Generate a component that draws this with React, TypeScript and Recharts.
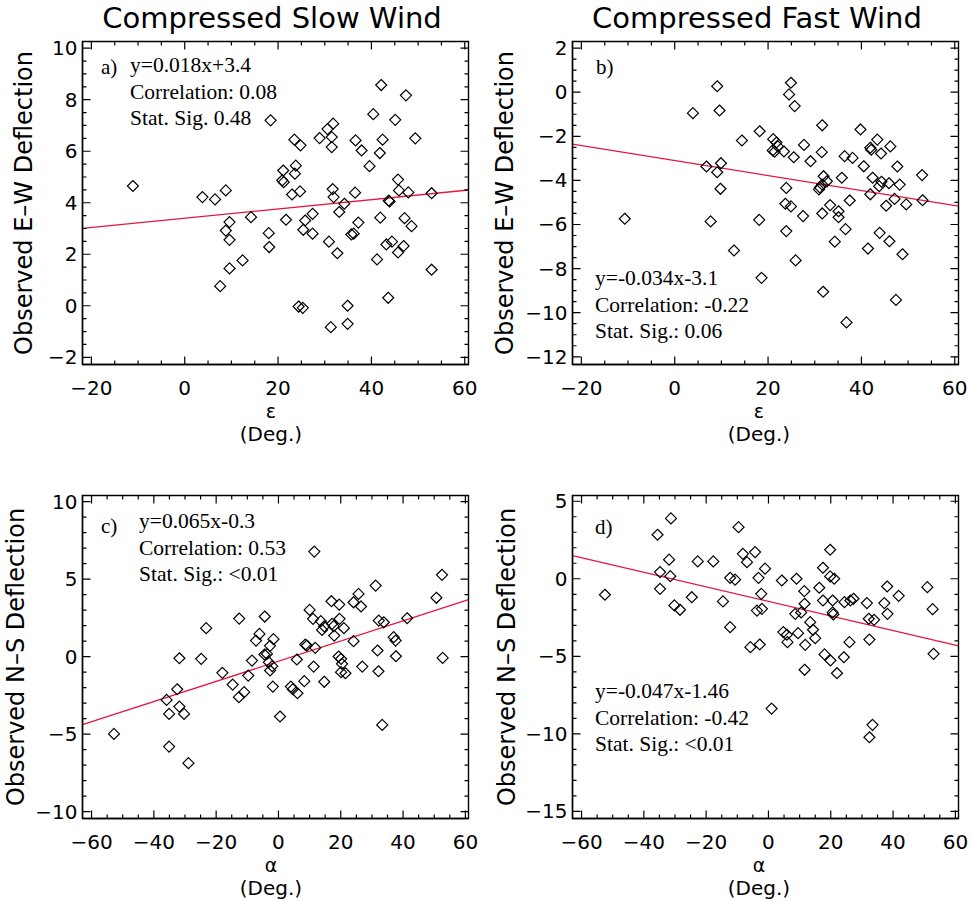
import React from 'react';
import { ScatterChart, Scatter, XAxis, YAxis, ReferenceLine } from 'recharts';

// a) compressed slow wind: epsilon (deg) vs observed E-W deflection
const slowEps = [18.4, -11.1, 3.8, 6.5, 8.8, 9.6, 8.8, 9.6, 14.2, 18.0, 18.1, 12.4, 9.6, 7.6,
  42.1, 47.4, 40.4, 45.1, 30.6, 31.8, 31.5, 28.9, 23.5, 24.8, 31.5, 36.6, 37.9, 42.4, 41.8, 49.4, 39.6,
  21.1, 23.8, 23.6, 20.9, 21.2, 23.0, 24.7, 31.7, 31.9, 36.5, 45.7, 45.9, 47.9, 52.9, 34.2, 33.1, 43.9, 43.7,
  21.7, 25.8, 27.4, 25.4, 27.4, 37.2, 41.9, 47.1, 48.6, 35.7, 36.2, 30.9, 32.7, 43.2, 44.4, 45.7, 46.9, 41.2, 52.9,
  24.4, 25.3, 34.9, 34.9, 31.3, 43.6];
const slowEW = [7.2, 4.65, 4.22, 4.13, 4.48, 3.25, 2.92, 2.56, 3.44, 2.82, 2.28, 1.76, 1.45, 0.76,
  8.57, 8.17, 7.44, 7.22, 6.86, 7.07, 6.55, 6.51, 6.45, 6.23, 6.16, 6.42, 6.03, 6.45, 5.93, 6.5, 5.42,
  5.25, 5.44, 5.13, 4.87, 4.8, 4.32, 4.44, 4.53, 4.22, 4.39, 4.9, 4.48, 4.4, 4.37, 3.96, 3.64, 4.05, 4.08,
  3.34, 3.31, 3.57, 2.95, 2.8, 3.23, 3.42, 3.4, 3.09, 2.77, 2.8, 2.49, 2.04, 2.38, 2.49, 2.07, 2.32, 1.8, 1.4,
  -0.03, -0.08, 0.0, -0.7, -0.83, 0.31];

// b) compressed fast wind: epsilon vs E-W deflection
const fastEps = [9.1, 9.6, 3.9, 18.2, 14.4, 6.8, 9.9, 9.1, 9.8, -10.7, 7.7, 18.1, 12.7, 18.6,
  24.9, 24.5, 25.7, 31.6, 39.8, 21.1, 21.8, 22.1, 21.4, 21.0, 23.4, 27.7, 25.5, 29.1, 31.5, 36.4, 38.1, 40.5, 42.1, 41.9, 43.4, 44.2, 46.2, 47.7, 53.0,
  23.9, 31.9, 32.6, 31.1, 30.9, 31.6, 35.8, 42.4, 44.3, 43.8, 45.9, 48.2, 41.9, 47.1, 37.5, 45.3, 49.6, 53.1,
  23.7, 24.9, 27.5, 33.3, 31.6, 35.1, 35.1, 23.9, 36.6, 34.3, 43.9, 46.0, 41.4, 48.8, 25.9, 31.8, 47.4, 36.8];
const fastEW = [0.27, -0.83, -0.95, -1.77, -2.19, -3.37, -3.22, -3.63, -4.38, -5.74, -5.86, -5.79, -7.18, -8.42,
  0.43, -0.1, -0.63, -1.5, -1.69, -2.13, -2.28, -2.46, -2.7, -2.64, -2.69, -2.39, -2.95, -3.13, -2.72, -2.9, -2.98, -3.36, -2.61, -2.52, -2.15, -2.78, -2.46, -3.37, -3.76,
  -4.34, -3.81, -4.04, -4.32, -4.41, -4.19, -3.88, -3.88, -4.06, -4.26, -4.13, -4.19, -4.63, -4.84, -4.91, -5.15, -5.09, -4.9,
  -5.06, -5.18, -5.62, -5.12, -5.5, -5.4, -5.67, -6.3, -6.21, -6.78, -6.38, -6.76, -7.09, -7.35, -7.63, -9.05, -9.42, -10.44];

// c) compressed slow wind: alpha vs N-S deflection
const slowAlpha = [-12.6, -4.4, -23.2, -6.1, -7.2, -1.6, -2.7, -4.5, -3.7, -8.5, -3.1, -2.0, -2.7, -1.8, -31.8, -24.8, -18.0, -14.7, -9.7, -12.7,
  -11.0, -35.9, -32.5, -31.8, -35.1, -30.3, -52.8, -35.1, -28.9, 0.5,
  11.5, 52.5, 50.7, 31.2, 25.7, 24.1, 26.5, 17.0, 19.5, 10.0, 11.1, 13.6, 19.6, 17.2, 17.7, 14.7, 14.0, 21.0, 17.9, 32.2, 33.8, 41.3, 24.1, 37.0, 37.6,
  8.6, 9.1, 11.8, 5.9, 11.3, 19.3, 20.1, 20.4, 20.1, 21.5, 26.9, 31.8, 32.1, 37.7, 52.7, 4.0, 4.6, 6.1, 8.3, 14.7, 33.3];
const slowNS = [2.45, 2.58, 1.83, 1.46, 1.03, 1.12, 0.69, 0.13, 0.17, -0.26, -0.37, -0.62, -0.9, -1.94, -0.11, -0.15, -1.05, -1.81, -1.23, -2.62,
  -2.3, -2.8, -2.11, -3.23, -3.7, -3.7, -4.99, -5.81, -6.88, -3.87,
  6.77, 5.27, 3.79, 4.58, 4.04, 3.5, 3.23, 3.57, 3.35, 3.01, 2.43, 2.28, 2.43, 2.11, 1.96, 1.94, 1.72, 1.83, 1.35, 2.32, 2.21, 2.47, 0.99, 1.25, 1.03,
  0.77, 0.71, 0.56, -0.19, -0.65, 0.0, -0.15, -0.47, -1.01, -1.08, -0.65, 0.39, -0.95, 0.02, -0.09, -1.94, -2.11, -2.37, -1.59, -1.63, -4.41];

// d) compressed fast wind: alpha vs N-S deflection
const fastAlpha = [-31.3, -35.6, -9.6, -8.2, -4.3, -6.9, -31.9, -22.7, -17.7, -34.8, -31.5, -12.3, -10.7, -3.2, -1.1, -34.8, -52.5, -24.6, -14.6, -30.2,
  -28.4, -12.3, -5.8, -2.3, -3.7, -2.1, -2.8,
  19.8, 17.5, 19.8, 21.1, 4.3, 9.0, 16.3, 11.5, 17.5, 20.6, 24.4, 26.3, 27.3, 31.6, 38.1, 41.8, 37.2, 51.0, 52.7, 11.6, 8.6, 10.5, 20.6, 20.8, 32.2, 33.9, 38.2,
  13.4, 14.3, 4.8, 5.9, 9.5, 15.0, 6.1, 11.8, 26.0, 32.4, 18.0, 19.9, 24.2, 53.0, 11.6, 22.0, 1.0, 33.4, 32.4];
const fastNS = [3.89, 2.84, 3.33, 1.61, 1.72, 1.07, 1.23, 1.12, 1.12, 0.43, 0.17, 0.06, -0.06, 0.06, 0.65, -0.65, -1.03, -1.19, -1.46, -1.72,
  -2.0, -3.12, -4.41, -0.97, -2.05, -1.94, -4.24,
  1.87, 0.71, 0.15, 0.0, -0.11, 0.0, -0.58, -0.8, -1.4, -1.4, -1.51, -1.4, -1.29, -1.57, -0.5, -1.1, -1.57, -0.54, -1.96, -1.61, -2.26, -2.17, -2.17, -2.3, -2.58, -2.65, -2.26,
  -2.8, -3.29, -3.44, -3.61, -3.51, -3.83, -4.09, -4.26, -4.09, -3.92, -4.88, -5.27, -5.06, -4.84, -5.87, -6.09, -8.37, -9.42, -10.22];

// linear fits and their annotation text
const fitSlope = [0.018, -0.034, 0.065, -0.047];
const fitIntercept = [3.4, -3.1, -0.3, -1.46];
const fitText = [
  ['y=0.018x+3.4', 'Correlation: 0.08', 'Stat. Sig. 0.48'],
  ['y=-0.034x-3.1', 'Correlation: -0.22', 'Stat. Sig.: 0.06'],
  ['y=0.065x-0.3', 'Correlation: 0.53', 'Stat. Sig.: <0.01'],
  ['y=-0.047x-1.46', 'Correlation: -0.42', 'Stat. Sig.: <0.01'],
];
const panelTags = ['a)', 'b)', 'c)', 'd)'];
const titles = ['Compressed Slow Wind', 'Compressed Fast Wind', '', ''];
const yTitles = ['Observed E\u2013W Deflection', 'Observed E\u2013W Deflection', 'Observed N\u2013S Deflection', 'Observed N\u2013S Deflection'];
const xTitles = ['\u03b5', '\u03b5', '\u03b1', '\u03b1'];

const epsTicks = [-20, 0, 20, 40, 60];
const alphaTicks = [-60, -40, -20, 0, 20, 40, 60];
const ewSlowTicks = [-2, 0, 2, 4, 6, 8, 10];
const ewFastTicks = [-12, -10, -8, -6, -4, -2, 0, 2];
const nsSlowTicks = [-10, -5, 0, 5, 10];
const nsFastTicks = [-15, -10, -5, 0, 5];

const W = 486;
const H = 446;
const PL = 82.5, PR = 468.5, PT = 41.5, PB = 364.5;
const RED = '#e3173f';
const SANS = "'DejaVu Sans', sans-serif";
const SERIF = "'Liberation Serif', 'Times New Roman', serif";

type Cfg = {
  xs: number[]; ys: number[]; k: number;
  xDomain: [number, number]; yDomain: [number, number];
  xMajor: number[]; yMajor: number[]; xMinor: number; yMinor: number;
  left: number; top: number;
  titleX: number; yLabX: number; xLabX: number;
  tagX: number; tagY: number; textX: number; textY: number;
};

const panels: Cfg[] = [
  { xs: slowEps, ys: slowEW, k: 0, xDomain: [-21.9, 60.8], yDomain: [-2.28, 10.26], xMajor: epsTicks, yMajor: ewSlowTicks, xMinor: 5, yMinor: 0.5,
    left: 0, top: 0, titleX: 272, yLabX: 24, xLabX: 271, tagX: 101, tagY: 67, textX: 130, textY: 65 },
  { xs: fastEps, ys: fastEW, k: 1, xDomain: [-21.9, 60.8], yDomain: [-12.35, 2.3], xMajor: epsTicks, yMajor: ewFastTicks, xMinor: 5, yMinor: 0.5,
    left: 490, top: 0, titleX: 267, yLabX: 15, xLabX: 269, tagX: 106, tagY: 67, textX: 105, textY: 278 },
  { xs: slowAlpha, ys: slowNS, k: 2, xDomain: [-62.9, 61.0], yDomain: [-10.45, 10.39], xMajor: alphaTicks, yMajor: nsSlowTicks, xMinor: 5, yMinor: 1,
    left: 0, top: 454, titleX: 272, yLabX: 16, xLabX: 271, tagX: 101, tagY: 72, textX: 139, textY: 67 },
  { xs: fastAlpha, ys: fastNS, k: 3, xDomain: [-62.9, 61.0], yDomain: [-15.46, 5.37], xMajor: alphaTicks, yMajor: nsFastTicks, xMinor: 5, yMinor: 1,
    left: 490, top: 454, titleX: 267, yLabX: 17, xLabX: 269, tagX: 105, tagY: 73, textX: 105, textY: 237 },
];

function tickList(major: number[], step: number, dom: [number, number]) {
  const out: number[] = [];
  const start = Math.ceil(dom[0] / step);
  const end = Math.floor(dom[1] / step);
  for (let i = start; i <= end; i++) out.push(Math.round(i * step * 1000) / 1000);
  major.forEach((m) => { if (!out.includes(m) && m >= dom[0] && m <= dom[1]) out.push(m); });
  return out.sort((a, b) => a - b);
}

const fmt = (v: number) => String(v).replace('-', '\u2212');
const isMajor = (v: number, step: number) => Math.abs(v / step - Math.round(v / step)) < 1e-6;

function makeTick(side: 'bottom' | 'left', majorStep: number) {
  return (p: any) => {
    const { x, y, payload } = p;
    const v = payload.value;
    if (!isMajor(v, majorStep)) return <g />;
    return side === 'bottom' ? (
      <text x={x} y={y + 23} textAnchor="middle" dominantBaseline="central" fontFamily={SANS} fontSize={20} fill="#000">{fmt(v)}</text>
    ) : (
      <text x={x - 5} y={y} textAnchor="end" dominantBaseline="central" fontFamily={SANS} fontSize={20} fill="#000">{fmt(v)}</text>
    );
  };
}

const Diamond = (p: any) => {
  const { cx, cy } = p;
  const r = 5.5;
  return <path d={`M${cx},${cy - r}L${cx + r},${cy}L${cx},${cy + r}L${cx - r},${cy}Z`} fill="none" stroke="#000" strokeWidth={1.2} />;
};

// box frame with inward ticks on all four sides, over the chart
function Frame({ c }: { c: Cfg }) {
  const xTicks = tickList(c.xMajor, c.xMinor, c.xDomain);
  const yTicks = tickList(c.yMajor, c.yMinor, c.yDomain);
  const xStep = Math.abs(c.xMajor[1] - c.xMajor[0]);
  const yStep = Math.abs(c.yMajor[1] - c.yMajor[0]);
  const sx = (v: number) => PL + ((v - c.xDomain[0]) / (c.xDomain[1] - c.xDomain[0])) * (PR - PL);
  const sy = (v: number) => PB - ((v - c.yDomain[0]) / (c.yDomain[1] - c.yDomain[0])) * (PB - PT);
  return (
    <svg width={W} height={H} style={{ position: 'absolute', left: 0, top: 0, pointerEvents: 'none' }}>
      <path d={`M${PL},${PT}H${PR}V${PB}H${PL}Z`} fill="none" stroke="#000" strokeWidth={1.4} />
      {xTicks.map((v) => {
        const len = isMajor(v, xStep) ? 8 : 4;
        const X = sx(v);
        return <path key={'x' + v} d={`M${X},${PB}v${-len}M${X},${PT}v${len}`} fill="none" stroke="#000" strokeWidth={1.2} />;
      })}
      {yTicks.map((v) => {
        const len = isMajor(v, yStep) ? 8 : 4;
        const Y = sy(v);
        return <path key={'y' + v} d={`M${PL},${Y}h${len}M${PR},${Y}h${-len}`} fill="none" stroke="#000" strokeWidth={1.2} />;
      })}
    </svg>
  );
}

function Panel({ c }: { c: Cfg }) {
  const pts = c.xs.map((x, i) => ({ x, y: c.ys[i] }));
  const m = fitSlope[c.k];
  const b = fitIntercept[c.k];
  const seg = [{ x: c.xDomain[0], y: m * c.xDomain[0] + b }, { x: c.xDomain[1], y: m * c.xDomain[1] + b }];
  const xTicks = tickList(c.xMajor, c.xMinor, c.xDomain);
  const yTicks = tickList(c.yMajor, c.yMinor, c.yDomain);
  const xStep = Math.abs(c.xMajor[1] - c.xMajor[0]);
  const yStep = Math.abs(c.yMajor[1] - c.yMajor[0]);
  const axisLine = { stroke: '#000', strokeWidth: 1.4 };
  const midY = (PT + PB) / 2;
  const lines = fitText[c.k];

  const yLabel = () => (
    <text x={c.yLabX} y={midY} transform={`rotate(-90 ${c.yLabX} ${midY})`} textAnchor="middle" dominantBaseline="central"
      fontFamily={SANS} fontSize={24} fill="#000">{yTitles[c.k]}</text>
  );
  const xLabel = () => (
    <g>
      <text x={c.xLabX} y={PB + 46} textAnchor="middle" dominantBaseline="central" fontFamily={SANS} fontSize={19} fill="#000">{xTitles[c.k]}</text>
      <text x={c.xLabX} y={PB + 69} textAnchor="middle" dominantBaseline="central" fontFamily={SANS} fontSize={20} fill="#000">(Deg.)</text>
      {titles[c.k] && (
        <text x={c.titleX} y={18} textAnchor="middle" dominantBaseline="central" fontFamily={SANS} fontSize={29} fill="#000">{titles[c.k]}</text>
      )}
      <text x={c.tagX} y={c.tagY} dominantBaseline="central" fontFamily={SERIF} fontSize={21} fill="#000">{panelTags[c.k]}</text>
      {lines.map((t, i) => (
        <text key={i} x={c.textX} y={c.textY + i * 26.7} dominantBaseline="central" fontFamily={SERIF} fontSize={21.5} fill="#000">{t}</text>
      ))}
    </g>
  );

  return (
    <div style={{ position: 'absolute', left: c.left, top: c.top, width: W, height: H }}>
      <ScatterChart width={W} height={H} margin={{ top: PT, right: W - PR, bottom: 0, left: 0 }}>
        <XAxis type="number" dataKey="x" orientation="bottom" domain={c.xDomain} allowDataOverflow ticks={xTicks}
          interval={0} tickSize={0} tickMargin={0} height={H - PB} axisLine={axisLine} tickLine={false}
          tick={makeTick('bottom', xStep)} label={xLabel} />
        <YAxis type="number" dataKey="y" orientation="left" domain={c.yDomain} allowDataOverflow ticks={yTicks}
          interval={0} tickSize={0} tickMargin={0} width={PL} axisLine={axisLine} tickLine={false}
          tick={makeTick('left', yStep)} label={yLabel} />
        <Scatter data={pts} shape={Diamond} isAnimationActive={false} />
        <ReferenceLine segment={seg} stroke={RED} strokeWidth={1.3} ifOverflow="hidden" />
      </ScatterChart>
      <Frame c={c} />
    </div>
  );
}

export default function App() {
  return (
    <div style={{ position: 'absolute', left: 0, top: 0, width: 972, height: 901, background: '#fff', overflow: 'hidden' }}>
      {panels.map((c) => <Panel key={c.k} c={c} />)}
    </div>
  );
}
